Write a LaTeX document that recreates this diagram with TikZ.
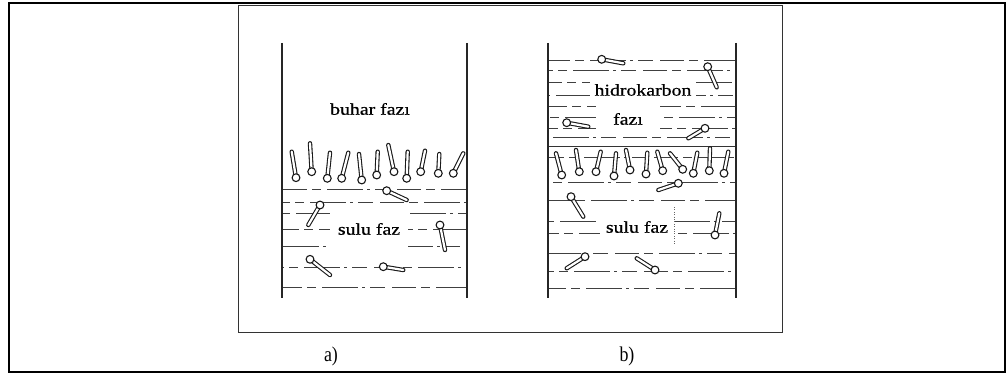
\documentclass[tikz,border=0pt]{standalone}
\usepackage{fontspec}
\setmainfont{Liberation Serif}
\newfontfamily\inkfont[FakeBold=0.6]{Liberation Serif}
\usepackage{graphicx}

\begin{document}
\begin{tikzpicture}[x=1pt,y=-1pt,
  every node/.style={font=\inkfont\fontsize{16.5}{16.5}\selectfont, inner sep=0pt},
  vessel/.style={line width=1.4pt, black!85},
  wline/.style={line width=0.9pt, black!75,
    dash pattern=on 24pt off 5pt on 9pt off 6pt on 36pt off 4pt on 3pt off 5pt on 15pt off 7pt},
  moltail/.style={double=white, double distance=2.2pt, line width=1.1pt, black!90, line cap=round},
  molhead/.style={line width=1.1pt, draw=black!90, fill=white},
  textbox/.style={fill=white},
  caption/.style={font=\rmfamily\fontsize{21}{21}\selectfont}]
  \useasboundingbox (0,0) rectangle (1007,374);

  % frames
  \draw[line width=2.5pt] (9,3) rectangle (1005,372);
  \draw[line width=1pt, black!80] (238,6) rectangle (782,332);

  % a) vapour over water
  \foreach \yy/\ph in {189/0,202/17,213/31,229/8,246/44,267/23,287/5}
    \draw[wline, dash phase=\ph pt] (283,\yy) -- (466,\yy);
  \draw[vessel] (282,43) -- (282,298) (467,43) -- (467,298);
  \node (vapA) at (370,109) {\scalebox{1.2}[1]{buhar fazı}};
  \node[textbox, minimum width=78, minimum height=40] (aqA) at (369,229)
    {\scalebox{1.2}[1]{sulu faz}};
  \foreach \hx/\hy/\tx/\ty in {296/177.7/291.7/151.7, 311.7/171.7/310/143.3,
      327.3/178.3/330/152.7, 341.7/178.3/348.3/152.7, 361.7/180/359/154,
      376.7/175/377.7/151.7, 394/171.7/388.3/145, 406.7/178.3/407.7/151.7,
      420.7/171.7/425/150.7, 438.3/173.3/439.3/154, 453.3/173.3/463.3/153.3,
      386.7/190.7/406.7/200, 320/205/308.3/225, 440/225/445/250,
      310/259.3/330/275, 383.3/266.7/403.3/270}
  {
    \draw[moltail] (\hx,\hy) -- (\tx,\ty);
    \draw[molhead] (\hx,\hy) circle (3.9);
  }

  % b) hydrocarbon over water
  \foreach \yy/\ph in {60/3,70/20,82/11,95/37,106/6,117/28,128/15,137/40,157/9,
      182/25,200/2,221/33,233/14,253/48,271/19,288/7}
    \draw[wline, dash phase=\ph pt] (549,\yy) -- (735,\yy);
  \draw[line width=1pt, black!80] (549,147) -- (735,147);
  \draw[dotted, black!60] (674,207) -- (674,244);
  \draw[vessel] (548,43) -- (548,298) (736,43) -- (736,298);
  \node[textbox, minimum width=106, minimum height=24] (oilB) at (643,90)
    {\scalebox{1.2}[1]{hidrokarbon}};
  \node[textbox, minimum width=64, minimum height=30] (oilB2) at (628,119)
    {\scalebox{1.2}[1]{fazı}};
  \node[textbox, minimum width=74, minimum height=30] (aqB) at (637,227)
    {\scalebox{1.2}[1]{sulu faz}};
  \foreach \hx/\hy/\tx/\ty in {561.7/175/556/153.3, 579.3/171.7/576/150,
      596/171.7/600.7/151.7, 614/176/616/153.3, 630/170/626/150,
      646/174/647.3/152.7, 662.7/170.7/657.3/151.7, 682.7/169.3/670/153.3,
      693.3/173.3/697.3/152.7, 709.3/170.7/710/148.3, 724/173.3/728.3/151.7,
      601.7/59.3/623.3/63.3, 707.7/66.7/716.7/87.3, 566.7/122.7/588.3/126.7,
      705/128.3/688.3/138.3, 678.3/183.3/658.3/190, 571/196.7/583.3/216.7,
      715/235/719.3/213.3, 585/256.7/566.7/268.3, 655/270/636.7/258.3}
  {
    \draw[moltail] (\hx,\hy) -- (\tx,\ty);
    \draw[molhead] (\hx,\hy) circle (3.9);
  }

  \node[caption] (capA) at (331,356) {\scalebox{0.85}[1]{a)}};
  \node[caption] (capB) at (627,356) {\scalebox{0.85}[1]{b)}};
\end{tikzpicture}
\end{document}
